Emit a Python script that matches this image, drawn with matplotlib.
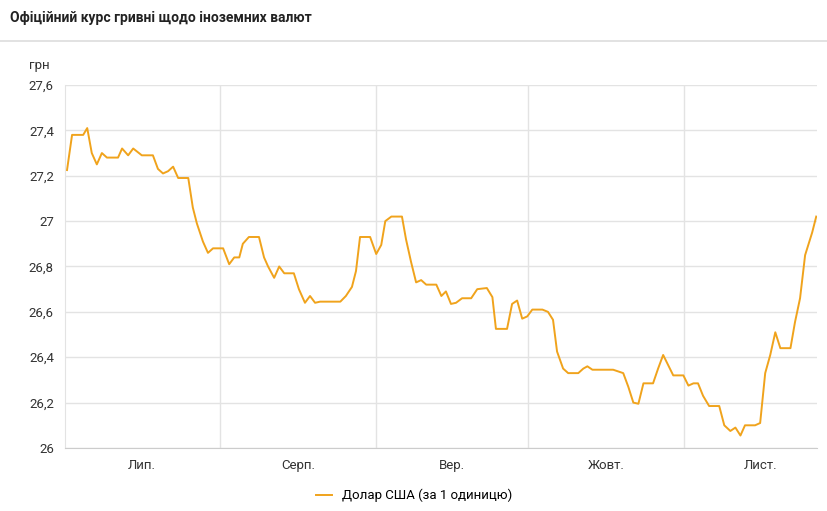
import matplotlib.pyplot as plt
from matplotlib.lines import Line2D

# day offset from 1 July, and UAH per 1 USD
days = [0.8, 1.8, 4.0, 4.8, 5.7, 6.7, 7.7, 8.7, 10.9, 11.7, 12.9, 13.9, 15.6, 17.8, 18.8,
        19.8, 20.8, 21.8, 22.8, 24.8, 25.7, 26.5, 27.7, 28.7, 29.7, 31.7, 32.9, 33.9, 34.9,
        35.6, 36.8, 38.8, 39.8, 40.6, 41.8, 42.8, 43.8, 45.7, 46.7, 47.9, 48.9, 49.9, 50.9,
        54.9, 56.0, 57.2, 58.0, 58.8, 60.8, 62.0, 63.0, 63.8, 65.0, 67.1, 67.9, 68.9, 69.9,
        70.9, 71.9, 73.9, 74.9, 75.8, 76.8, 77.8, 79.0, 80.8, 82.0, 83.9, 85.0, 85.7, 87.9,
        88.9, 89.9, 90.9, 91.9, 92.9, 94.9, 96.0, 97.0, 97.8, 99.0, 100.0, 102.0, 103.0,
        103.8, 104.8, 108.9, 110.9, 111.9, 112.9, 113.9, 114.9, 116.8, 117.8, 118.8, 119.8,
        120.8, 122.8, 123.8, 124.8, 125.7, 126.7, 127.9, 129.9, 130.9, 132.1, 133.1, 134.1,
        135.0, 137.0, 138.0, 139.0, 140.0, 141.0, 142.0, 144.0, 144.9, 145.9, 146.9, 148.3,
        149.1]
usd = [27.225, 27.38, 27.38, 27.41, 27.30, 27.25, 27.30, 27.28, 27.28, 27.32, 27.29, 27.32,
       27.29, 27.29, 27.23, 27.21, 27.22, 27.24, 27.19, 27.19, 27.06, 26.99, 26.91, 26.86,
       26.88, 26.88, 26.81, 26.84, 26.84, 26.90, 26.93, 26.93, 26.84, 26.80, 26.75, 26.80,
       26.77, 26.77, 26.70, 26.64, 26.67, 26.64, 26.645, 26.645, 26.67, 26.71, 26.78, 26.93,
       26.93, 26.855, 26.895, 27.00, 27.02, 27.02, 26.92, 26.82, 26.73, 26.74, 26.72, 26.72,
       26.67, 26.69, 26.635, 26.64, 26.66, 26.66, 26.70, 26.705, 26.665, 26.525, 26.525,
       26.635, 26.65, 26.57, 26.58, 26.61, 26.61, 26.60, 26.565, 26.425, 26.35, 26.33, 26.33,
       26.35, 26.36, 26.345, 26.345, 26.33, 26.27, 26.20, 26.195, 26.285, 26.285, 26.35,
       26.41, 26.365, 26.32, 26.32, 26.275, 26.285, 26.285, 26.23, 26.185, 26.185, 26.10,
       26.075, 26.09, 26.055, 26.10, 26.10, 26.11, 26.33, 26.41, 26.51, 26.44, 26.44, 26.555,
       26.66, 26.85, 26.95, 27.02]

month_starts = [31, 62, 92, 123]
month_mid = [15.5, 46.5, 77, 107.5, 138]
month_labels = ["Лип.", "Серп.", "Вер.", "Жовт.", "Лист."]
yticks = [26.0, 26.2, 26.4, 26.6, 26.8, 27.0, 27.2, 27.4, 27.6]
ylabels = ["26", "26,2", "26,4", "26,6", "26,8", "27", "27,2", "27,4", "27,6"]

color = "#f0a31c"
grid = "#e3e3e3"

fig = plt.figure(figsize=(8.28, 5.11), dpi=100)
ax = fig.add_axes([0.0785, 0.1233, 0.9085, 0.7104])
ax.plot(days, usd, color=color, lw=1.4)

ax.set_xlim(0.4, 149.3)
ax.set_ylim(26.0, 27.6)
ax.set_yticks(yticks)
ax.set_yticklabels(ylabels, fontsize=9.5, color="#333333", family="Roboto")
ax.set_xticks(month_starts)
ax.set_xticklabels([])
ax.set_xticks(month_mid, minor=True)
ax.set_xticklabels(month_labels, minor=True, fontsize=9.5, color="#333333", family="Roboto")
ax.tick_params(which="both", length=0, pad=8)
ax.grid(True, axis="both", which="major", color=grid, lw=1)
for s in ["top", "right"]:
    ax.spines[s].set_visible(False)
ax.spines["left"].set_color(grid)
ax.spines["bottom"].set_color("#cccccc")

fig.text(0.012, 0.965, "Офіційний курс гривні щодо іноземних валют", fontsize=10,
         weight="bold", color="#222222", family="Roboto", va="center")
fig.add_artist(Line2D([0, 1], [0.92, 0.92], color="#dddddd", lw=1.2))
fig.text(0.035, 0.872, "грн", fontsize=9.5, color="#333333", family="Roboto", va="center")

handle = Line2D([], [], color=color, lw=1.4)
fig.legend([handle], ["Долар США (за 1 одиницю)"], loc="center", bbox_to_anchor=(0.5, 0.03),
           frameon=False, prop={"family": "Roboto", "size": 9.5}, handlelength=1.2)

fig.savefig("out.png", dpi=100)
